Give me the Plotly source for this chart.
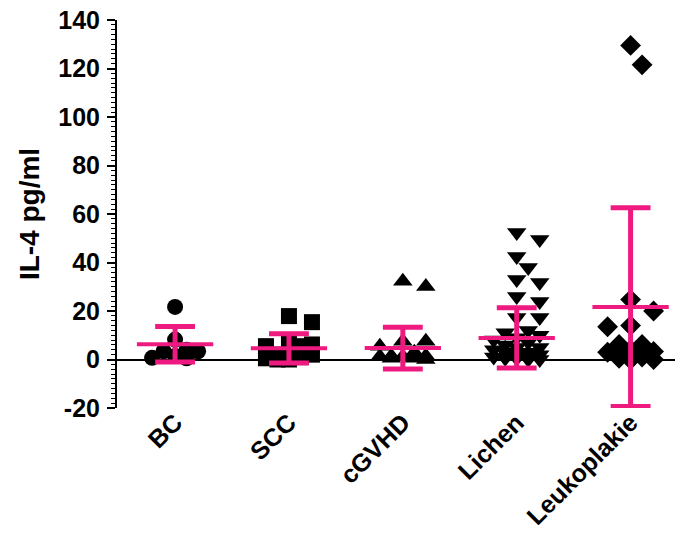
import plotly.graph_objects as go

# IL-4 concentrations (pg/ml) per patient group
categories = ["BC", "SCC", "cGVHD", "Lichen", "Leukoplakie"]

bc = [21.7, 8.2, 4.0, 3.4, 3.4, 1.4, 0.7, 0.5]
scc = [17.9, 15.4, 6.9, 6.2, 5.5, 5.5, 2.0, 2.0, 2.0, 1.0, 0.5, 0.0, 0.0]
cgvhd = [32.3, 30.1, 7.5, 7.5, 5.5, 3.0, 1.4, 1.4, 1.2, 1.2, 0.5, 0.5, 0.0]
lichen = [52.4, 49.5, 42.5, 37.9, 33.0, 31.8, 26.0, 23.9, 17.3, 17.3,
          12.0, 11.0, 10.0, 9.0, 8.0, 7.0, 6.0, 5.0, 5.0, 4.0,
          3.0, 3.0, 2.0, 2.0, 1.0, 1.0, 0.5, 0.5, 0.0, 0.0]
leukoplakie = [129.5, 121.5, 24.7, 20.0, 14.0, 13.5, 6.2, 6.2,
               4.0, 3.3, 3.0, 1.0, 0.5, 0.0, 0.0]

# group mean and standard deviation
means = [6.3, 4.6, 4.7, 8.9, 21.6]
sds = [7.3, 6.0, 8.6, 12.4, 41.0]

# y axis ticks (plain hyphen for negatives)
y_ticks = [-20, 0, 20, 40, 60, 80, 100, 120, 140]
y_tick_labels = ["-20", "0", "20", "40", "60", "80", "100", "120", "140"]

groups = [bc, scc, cgvhd, lichen, leukoplakie]
symbols = ["circle", "square", "triangle-up", "triangle-down", "diamond"]
sizes = [16, 16, 17, 17, 16]
spacing = [15, 15, 15, 15, 22]

PINK = "#EE1A80"
FONT = "Liberation Sans, Arial, sans-serif"

# plot geometry used to spread overlapping points horizontally
X_RANGE = [-0.51, 4.39]
Y_RANGE = [-20, 140]
PLOT_W = 675 - 117
PLOT_H = 540 - 20 - 132
PX_PER_X = PLOT_W / (X_RANGE[1] - X_RANGE[0])
PX_PER_Y = PLOT_H / (Y_RANGE[1] - Y_RANGE[0])


def swarm_offsets(values, diameter=14.0, step=11.5, max_steps=2):
    """Column-scatter layout: offsets (in x units) so markers overlap little."""
    candidates = [0.0]
    for k in range(1, max_steps + 1):
        candidates += [k * step, -k * step]
    placed = []
    offsets = [0.0] * len(values)
    order = sorted(range(len(values)), key=lambda i: -values[i])
    for i in order:
        ypx = values[i] * PX_PER_Y
        best, best_d = None, -1.0
        for c in candidates:
            d = min([((c - px) ** 2 + (ypx - py) ** 2) ** 0.5 for px, py in placed] or [1e9])
            if d >= diameter:
                best = c
                break
            if d > best_d:
                best, best_d = c, d
        placed.append((best, ypx))
        offsets[i] = best / PX_PER_X
    return offsets


fig = go.Figure()

for i, (vals, sym, sz, sp) in enumerate(zip(groups, symbols, sizes, spacing)):
    offs = swarm_offsets(vals, diameter=sp)
    fig.add_trace(go.Scatter(
        x=[i + o for o in offs], y=vals, mode="markers",
        marker=dict(symbol=sym, size=sz, color="black", line=dict(width=0)),
        showlegend=False, hoverinfo="y",
    ))

# mean line with SD error bars
MEAN_HALF = 0.335
CAP_HALF = 0.175
for i, (m, s) in enumerate(zip(means, sds)):
    fig.add_trace(go.Scatter(x=[i - MEAN_HALF, i + MEAN_HALF], y=[m, m], mode="lines",
                             line=dict(color=PINK, width=4), showlegend=False,
                             hoverinfo="skip"))
    fig.add_trace(go.Scatter(x=[i, i], y=[m - s, m + s], mode="lines",
                             line=dict(color=PINK, width=5), showlegend=False, hoverinfo="skip"))
    for yv in (m - s, m + s):
        fig.add_trace(go.Scatter(x=[i - CAP_HALF, i + CAP_HALF], y=[yv, yv], mode="lines",
                                 line=dict(color=PINK, width=5), showlegend=False,
                                 hoverinfo="skip"))

fig.update_layout(
    width=675, height=540,
    margin=dict(l=117, r=0, t=20, b=132),
    plot_bgcolor="white", paper_bgcolor="white",
    font=dict(family=FONT, color="black"),
)

fig.update_xaxes(
    range=X_RANGE,
    tickmode="array", tickvals=list(range(len(categories))), ticktext=categories,
    tickangle=-45, tickfont=dict(size=25, weight="bold", family=FONT),
    ticklabelstandoff=-6,
    showline=False, showgrid=False, zeroline=False, ticks="",
)

fig.update_yaxes(
    range=Y_RANGE, tickmode="array", tickvals=y_ticks, ticktext=y_tick_labels,
    showline=True, linecolor="black", linewidth=2,
    ticks="outside", ticklen=8, tickwidth=2, tickcolor="black",
    minor=dict(tickmode="linear", tick0=0, dtick=2, ticks="outside", ticklen=4,
               tickwidth=1, tickcolor="black"),
    showgrid=False,
    zeroline=True, zerolinecolor="black", zerolinewidth=2,
    tickfont=dict(size=25, weight="bold", family=FONT),
    ticklabelstandoff=2,
    title=dict(text="IL-4 pg/ml", font=dict(size=28, weight="bold", family=FONT), standoff=10),
)

fig.write_html("out.html")
